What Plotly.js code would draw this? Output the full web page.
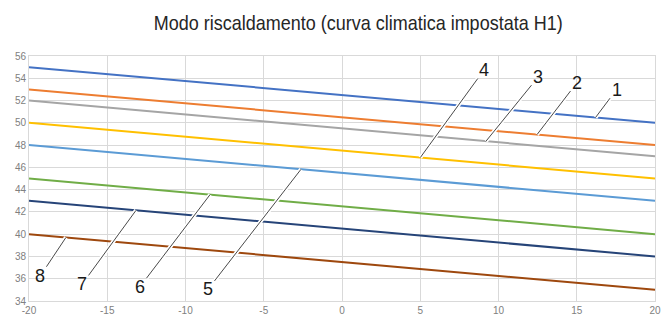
<!DOCTYPE html>
<html><head><meta charset="utf-8">
<script src="https://cdn.plot.ly/plotly-3.0.1.min.js"></script>
<style>html,body{margin:0;padding:0;background:#fff}#chart{width:662px;height:322px}</style>
</head><body><div id="chart"></div>
<script>
// Outdoor temperature (°C)
const xTemps = [-20, 0, 20];
// Flow temperature per climatic curve
const curve1 = [55, 52.5, 50];
const curve2 = [53, 50.5, 48];
const curve3 = [52, 49.5, 47];
const curve4 = [50, 47.5, 45];
const curve5 = [48, 45.5, 43];
const curve6 = [45, 42.5, 40];
const curve7 = [43, 40.5, 38];
const curve8 = [40, 37.5, 35];
const curveNames = ['1','2','3','4','5','6','7','8'];
// x ticks
const xTickVals = [-20, -15, -10, -5, 0, 5, 10, 15, 20];
const xTickText = ['-20', '-15', '-10', '-5', '0', '5', '10', '15', '20'];
// x position where each label points at its curve
const labelX = [16.2, 12.46, 9.2, 5.0, -2.62, -8.43, -13.16, -17.64];

const series = [curve1, curve2, curve3, curve4, curve5, curve6, curve7, curve8];
const colors = ['#4472C4','#ED7D31','#A5A5A5','#FFC000','#5B9BD5','#70AD47','#264478','#9E480E'];
const offsets = [[21,-28],[40,-52],[52,-64],[64,-88],[-93,120],[-70,92],[-54,74],[-26,39]];

function interp(xs, ys, x){
  for (let i=0;i<xs.length-1;i++){
    if (x>=xs[i] && x<=xs[i+1]){
      const t=(x-xs[i])/(xs[i+1]-xs[i]);
      return ys[i]+t*(ys[i+1]-ys[i]);
    }
  }
  return ys[ys.length-1];
}

const traces = series.map((s,i)=>({
  x: xTemps, y: s, type:'scatter', mode:'lines', name: curveNames[i],
  line:{color:colors[i], width:2}, hoverinfo:'skip'
}));

const annotations = [];
series.forEach((s,i)=>{
  const tx = labelX[i], ty = interp(xTemps, s, tx);
  annotations.push({x:tx, y:ty, xref:'x', yref:'y', ax:offsets[i][0], ay:offsets[i][1],
    text:curveNames[i], showarrow:true, arrowhead:0, arrowwidth:4, arrowcolor:'#ffffff',
    font:{family:'Liberation Sans, Arial, sans-serif', size:18, color:'rgba(0,0,0,0)'}, standoff:0});
  annotations.push({x:tx, y:ty, xref:'x', yref:'y', ax:offsets[i][0], ay:offsets[i][1],
    text:curveNames[i], showarrow:true, arrowhead:0, arrowwidth:0.8, arrowcolor:'#1a1a1a',
    font:{family:'Liberation Sans, Arial, sans-serif', size:18, color:'#1a1a1a'}, standoff:0});
});

const layout = {
  width:662, height:322,
  margin:{l:29, r:7, t:56, b:21},
  paper_bgcolor:'#fff', plot_bgcolor:'#fff',
  showlegend:false,
  title:{text:'Modo riscaldamento (curva climatica impostata H1)', x:0.541, xanchor:'center', y:0.93, yanchor:'middle',
    font:{family:'Liberation Sans, Arial, sans-serif', size:21, color:'#262626'}},
  xaxis:{range:[-20,20], tickvals:xTickVals, ticktext:xTickText, showgrid:true, gridcolor:'#d9d9d9', gridwidth:1,
    zeroline:false, showline:true, linecolor:'#d9d9d9', mirror:true, ticks:'', ticklabeloverflow:'allow',
    tickfont:{family:'Liberation Sans, Arial, sans-serif', size:10, color:'#808080'}},
  yaxis:{range:[34,56], dtick:2, tick0:34, showgrid:true, gridcolor:'#d9d9d9', gridwidth:1,
    zeroline:false, showline:true, linecolor:'#d9d9d9', mirror:true, ticks:'', ticklabeloverflow:'allow',
    tickfont:{family:'Liberation Sans, Arial, sans-serif', size:10, color:'#808080'}},
  annotations: annotations
};

function narrowTitle(){
  const t = document.querySelector('#chart .gtitle');
  if (t){ t.setAttribute('textLength', '409'); t.setAttribute('lengthAdjust', 'spacingAndGlyphs'); }
}
Plotly.newPlot('chart', traces, layout, {staticPlot:true, displayModeBar:false}).then(narrowTitle);
</script></body></html>
